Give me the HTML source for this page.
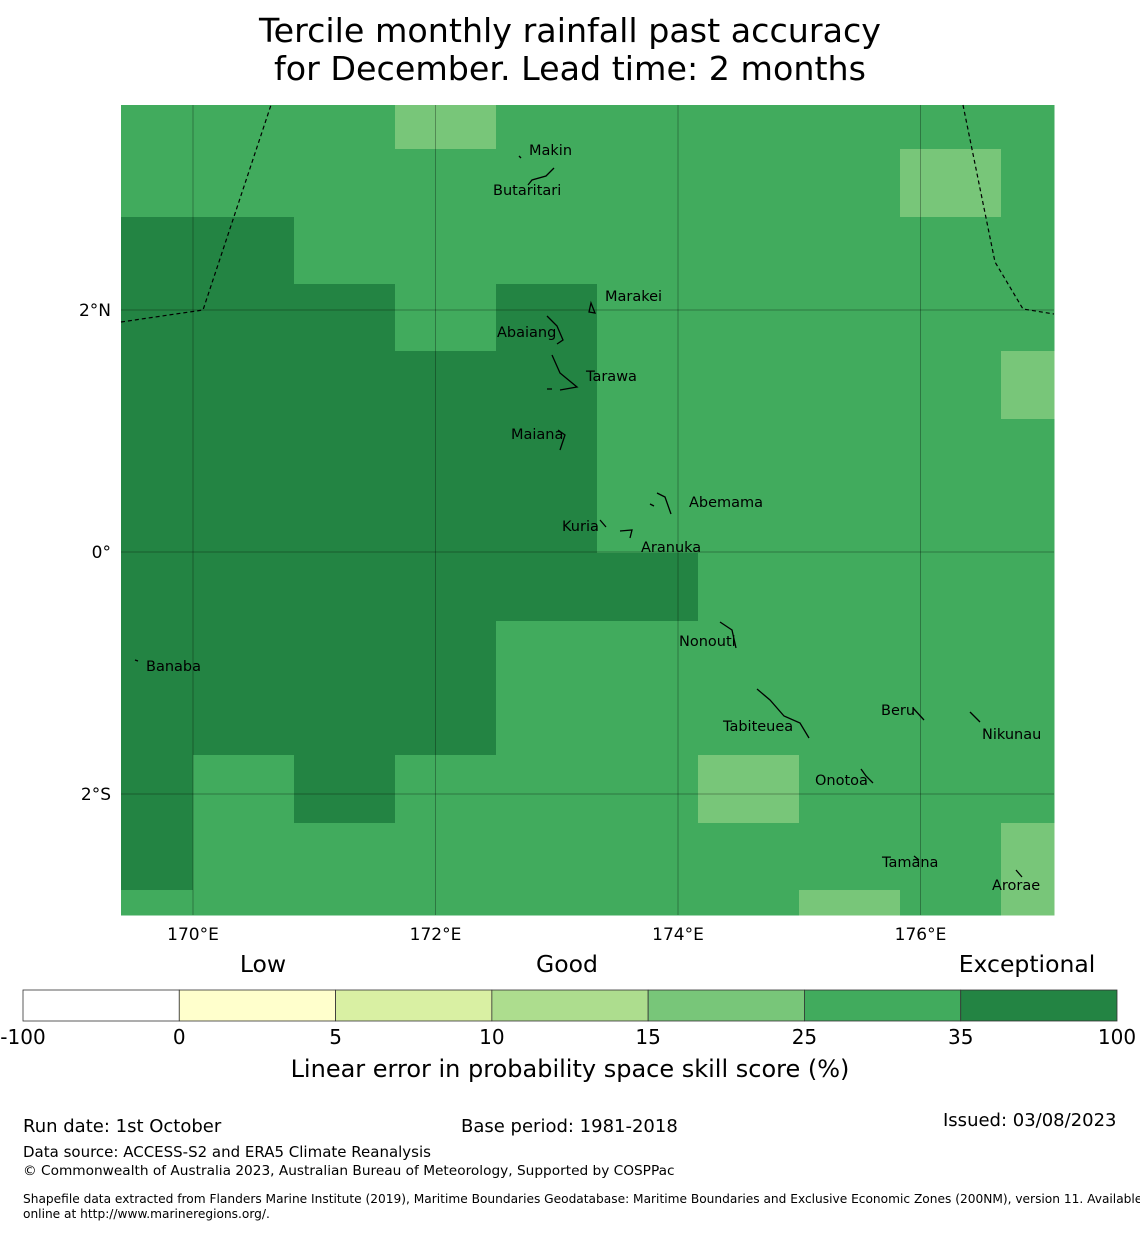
<!DOCTYPE html>
<html><head><meta charset="utf-8"><style>
body{margin:0;background:#fff;font-family:"Liberation Sans","DejaVu Sans",sans-serif}
svg text{font-family:"DejaVu Sans","Liberation Sans",sans-serif}
</style></head><body>
<svg width="1140" height="1230" viewBox="0 0 1140 1230">
<text x="570" y="42" font-size="33.3" text-anchor="middle">Tercile monthly rainfall past accuracy</text>
<text x="570" y="80" font-size="33.3" text-anchor="middle">for December. Lead time: 2 months</text>
<g id="cells"></g>
<g id="grid"></g>
<g fill="none" stroke="#000" stroke-width="1.2">
<polyline points="121,322 203,310 271,105" stroke-dasharray="4,3"/>
<polyline points="963,105 995,262 1023,309 1054,314" stroke-dasharray="4,3"/>
</g>
<g fill="none" stroke="#000" stroke-width="1.3">
<path d="M519,156 L521,158"/><path d="M554,168 L546,176 L532,180 L528,185"/>
<path d="M589,312 L591,303 L595,313 Z"/>
<path d="M547,316 L557,326 L563,340 L557,344"/>
<path d="M552,355 L560,373 L577,387 L560,390 M547,389 L552,389"/>
<path d="M558,430 L565,435 L560,450"/>
<path d="M657,493 L665,497 L671,514 M650,504 L654,506"/>
<path d="M600,520 L606,527 M620,531 L632,530 L630,538"/>
<path d="M720,622 L732,630 L736,648"/>
<path d="M757,689 L770,700 L784,716 L800,723 L809,738"/>
<path d="M913,708 L924,720"/><path d="M970,712 L980,722"/>
<path d="M861,769 L866,776 L873,783"/><path d="M914,856 L919,860"/><path d="M1016,870 L1022,877"/>
<path d="M135,660 L138,661"/>
</g>
<g font-size="14.5">
<text x="529" y="155">Makin</text>
<text x="493" y="195">Butaritari</text>
<text x="605" y="301">Marakei</text>
<text x="497" y="337">Abaiang</text>
<text x="586" y="381">Tarawa</text>
<text x="511" y="439">Maiana</text>
<text x="689" y="507">Abemama</text>
<text x="562" y="531">Kuria</text>
<text x="641" y="552">Aranuka</text>
<text x="679" y="646">Nonouti</text>
<text x="146" y="671">Banaba</text>
<text x="723" y="731">Tabiteuea</text>
<text x="881" y="715">Beru</text>
<text x="982" y="739">Nikunau</text>
<text x="815" y="785">Onotoa</text>
<text x="882" y="867">Tamana</text>
<text x="992" y="890">Arorae</text>
</g>
<g id="ticks" font-size="17"></g>
<g font-size="23.5" text-anchor="middle">
<text x="263" y="972">Low</text>
<text x="567" y="972">Good</text>
<text x="1027" y="972">Exceptional</text>
</g>
<g id="cbar"></g>
<text x="570" y="1077" font-size="24" text-anchor="middle">Linear error in probability space skill score (%)</text>
<g font-size="18">
<text x="23" y="1132">Run date: 1st October</text>
<text x="461" y="1132">Base period: 1981-2018</text>
<text x="943" y="1126">Issued: 03/08/2023</text>
<text x="23" y="1157" font-size="15">Data source: ACCESS-S2 and ERA5 Climate Reanalysis</text>
<text x="23" y="1175" font-size="13.7">© Commonwealth of Australia 2023, Australian Bureau of Meteorology, Supported by COSPPac</text>
<text x="23" y="1203" font-size="12.2">Shapefile data extracted from Flanders Marine Institute (2019), Maritime Boundaries Geodatabase: Maritime Boundaries and Exclusive Economic Zones (200NM), version 11. Available</text>
<text x="23" y="1218" font-size="12.2">online at http://www.marineregions.org/.</text>
</g>
</svg>
<script>
const colEdges=[121,193,294,395,496,597,698,799,900,1001,1054];
const rowEdges=[105,149,217,284,351,419,486,553,621,688,755,823,890,915];
// skill score class per cell, rows top->bottom
const skillRows=[
"M M M L M M M M M M","M M M M M M M M L M","D D M M M M M M M M",
"D D D M D M M M M M","D D D D D M M M M L","D D D D D M M M M M",
"D D D D D M M M M M","D D D D D D M M M M","D D D D M M M M M M",
"D D D D M M M M M M","D M D M M M L M M M","D M M M M M M M M L",
"M M M M M M M L M L"];
const levelValue={D:45,M:30,L:20};
const binEdges=[-100,0,5,10,15,25,35,100];
const binColors=["#ffffff","#ffffcc","#d9f0a3","#addd8e","#78c679","#41ab5d","#238443"];
const lonTicks=[170,172,174,176];
const lonLabels=["170°E","172°E","174°E","176°E"];
const latTicks=[2,0,-2];
const latLabels=["2°N","0°","2°S"];
const NS="http://www.w3.org/2000/svg";
const xLon=l=>193+(l-170)*121.25;
const yLat=l=>552-l*121;
function colorFor(v){for(let i=0;i<binColors.length;i++){if(v<binEdges[i+1])return binColors[i];}return binColors[binColors.length-1];}
function mk(t,a,p){const e=document.createElementNS(NS,t);for(const k in a)e.setAttribute(k,a[k]);p.appendChild(e);return e;}
const cells=document.getElementById('cells');
skillRows.forEach((row,r)=>{row.split(' ').forEach((c,ci)=>{
 const v=levelValue[c];
 const e=mk('rect',{x:colEdges[ci],y:rowEdges[r],width:colEdges[ci+1]-colEdges[ci]+0.5,height:rowEdges[r+1]-rowEdges[r]+0.5,fill:colorFor(v)},cells);
 
 
});});
const grid=document.getElementById('grid'),ticks=document.getElementById('ticks');
lonTicks.forEach((l,i)=>{const x=xLon(l);
 const ln=mk('line',{x1:x,x2:x,y1:105,y2:915,stroke:'#000','stroke-opacity':0.3,'stroke-width':1},grid);
 
 
 const t=mk('text',{x:x,y:940,'text-anchor':'middle'},ticks);t.textContent=lonLabels[i];
 
 
});
latTicks.forEach((l,i)=>{const y=yLat(l);
 const ln=mk('line',{x1:121,x2:1054,y1:y,y2:y,stroke:'#000','stroke-opacity':0.3,'stroke-width':1},grid);
 
 
 const t=mk('text',{x:111,y:y+6,'text-anchor':'end'},ticks);t.textContent=latLabels[i];
 
 
});
const cb=document.getElementById('cbar');const w=(1117-23)/binColors.length;
binColors.forEach((c,i)=>{const r=mk('rect',{x:23+i*w,y:990,width:w,height:31,fill:c,stroke:'#333','stroke-width':0.8},cb);
 
 });
binEdges.forEach((b,i)=>{const t=mk('text',{x:23+i*w,y:1044,'text-anchor':'middle','font-size':20},cb);t.textContent=b;
 
 });
</script>
</body></html>
